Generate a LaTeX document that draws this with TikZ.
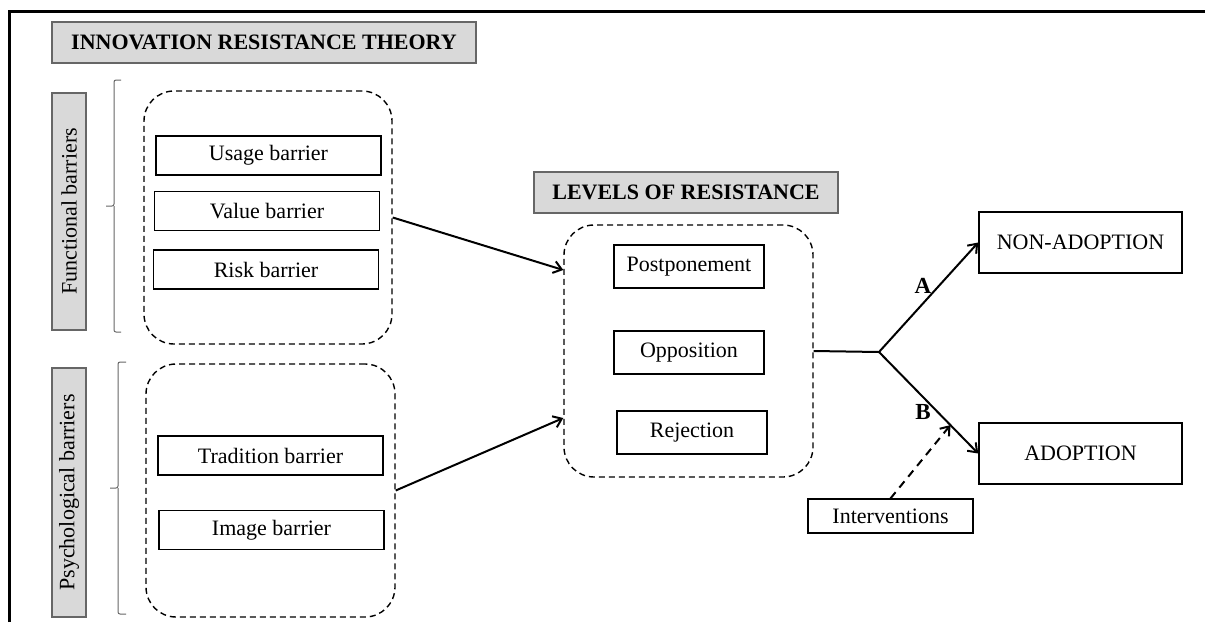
\documentclass[tikz,border=0pt]{standalone}
\usepackage{fontspec}
\setmainfont{Liberation Serif}
\usepackage{tikz}
\usetikzlibrary{calc,arrows.meta}

\tikzset{
  barrier/.style={draw,line width=0.8pt,minimum width=112.5pt,minimum height=19.5pt,inner sep=0pt},
  level/.style={draw,line width=0.8pt,minimum width=75pt,minimum height=21.5pt,inner sep=0pt},
  outcome/.style={draw,line width=0.8pt,minimum width=101.5pt,minimum height=30.5pt,inner sep=0pt},
  header/.style={draw=black!60,fill=black!15,line width=0.6pt,inner sep=0pt,font=\fontsize{11}{13}\selectfont\bfseries},
  sidebox/.style={draw=black!60,fill=black!15,line width=0.6pt,inner sep=0pt,rotate=90,minimum height=17pt},
  group/.style={draw,dashed,dash pattern=on 3pt off 2pt,line width=0.7pt,rounded corners=15pt,inner sep=0pt},
  bracket/.style={draw=black!60,line width=0.5pt,rounded corners=1pt},
  branch/.style={font=\fontsize{11.5}{13}\selectfont\bfseries},
  link/.style={line width=1pt,-{Straight Barb[length=4pt,width=6pt]}}
}

\begin{document}
\begin{tikzpicture}[x=0.5pt,y=-0.5pt,every node/.style={font=\fontsize{11}{13}\selectfont}]
\useasboundingbox (0,0) rectangle (1205,622);
% frame
\draw[line width=1.5pt](9,622)--(9,11)--(1205,11);

% left column
\node[header,minimum width=212pt,minimum height=20.5pt] (irt) at (264,42.5) {INNOVATION RESISTANCE THEORY};
\node[sidebox,minimum width=118.5pt] (func) at (69,211.5) {Functional barriers};
\node[sidebox,minimum width=124.5pt] (psych) at (69,492.5) {Psychological barriers};
\draw[bracket](121,80)--(114,80)--(114,206)--(106,206);
\draw[bracket](114,206)--(114,332)--(121,332);
\draw[bracket](126,362)--(118,362)--(118,488)--(110,488);
\draw[bracket](118,488)--(118,614)--(126,614);

\node[group,minimum width=124pt,minimum height=126.5pt] (g1) at (268,217.5) {};
\node[barrier] (usage) at (268.5,155.5) {Usage barrier};
\node[barrier] (value) at (267,211) {Value barrier};
\node[barrier] (risk) at (266,269.5) {Risk barrier};

\node[group,minimum width=124.5pt,minimum height=126.5pt] (g2) at (270.5,490.5) {};
\node[barrier] (trad) at (270.5,455.5) {Tradition barrier};
\node[barrier] (image) at (271.5,530) {Image barrier};

% levels of resistance
\node[header,minimum width=152pt,minimum height=20.5pt] (lor) at (686,192.5) {LEVELS OF RESISTANCE};
\node[group,minimum width=124.5pt,minimum height=126pt] (g3) at (688.5,351) {};
\node[level] (post) at (689,266.5) {Postponement};
\node[level] (opp) at (689,352.5) {Opposition};
\node[level] (rej) at (692,432.5) {Rejection};

\draw[link](g1.east)--([yshift=40.5pt]g3.west);
\draw[link](g2.east)--([yshift=-33.5pt]g3.west);

% outcomes
\node[outcome] (nonad) at (1080.5,242.5) {NON-ADOPTION};
\node[outcome] (adopt) at (1080.5,453.5) {ADOPTION};
\node[draw,line width=0.6pt,minimum width=82.5pt,minimum height=17pt,inner sep=0pt] (interv) at (890.5,516) {Interventions};

\coordinate (fork) at (879,352);
\draw[line width=1pt](g3.east)--(fork);
\draw[link](fork)--(nonad.west);
\draw[link](fork)--(adopt.west);
\node[branch] (a) at (923,286) {A};
\node[branch] (b) at (923,412) {B};
\coordinate (hit) at ($(fork)!0.72!(adopt.west)$);
\draw[link,dashed,dash pattern=on 4pt off 3pt](interv.north)--(hit);

\end{tikzpicture}
\end{document}
